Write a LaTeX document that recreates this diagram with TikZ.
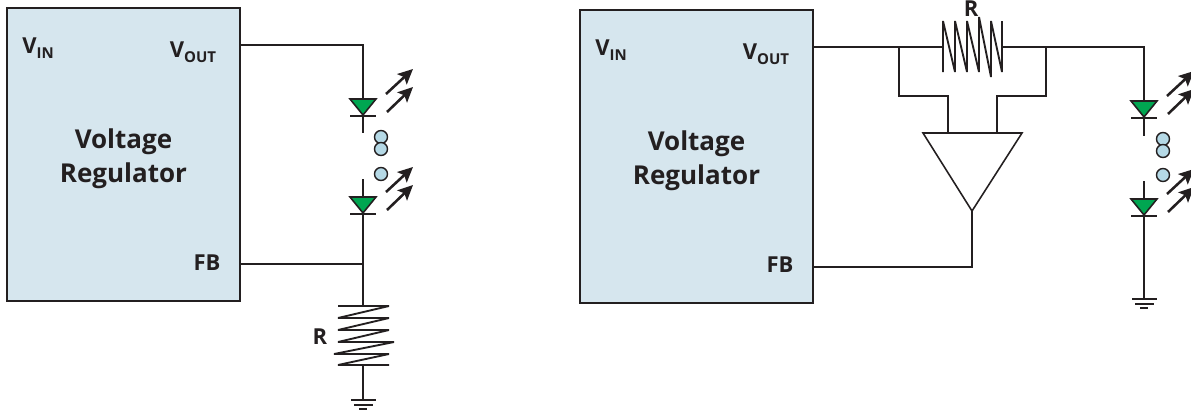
\documentclass[tikz,border=0pt]{standalone}
\usepackage{fontspec}
\setmainfont{Open Sans}
\usetikzlibrary{arrows.meta}

\definecolor{inkdark}{HTML}{231F20}
\definecolor{regblue}{HTML}{D6E6EE}
\definecolor{ledgreen}{HTML}{00A651}
\definecolor{dotblue}{HTML}{B5D9E6}

\newcommand{\pinsub}[2]{#1{\fontsize{15}{16}\selectfont\raisebox{-4.5pt}{#2}}}

\tikzset{
          wire/.style = {draw = inkdark, line width = 0.55mm},
          coil/.style = {draw = inkdark, line width = 0.65mm, miter limit = 2},
          regbox/.style = {rectangle, draw = inkdark, line width = 0.55mm, fill = regblue, minimum width = 233pt, minimum height = 293pt, inner sep = 0pt},
          regname/.style = {align = center, inner sep = 0pt, text = inkdark, font = \fontsize{26}{34}\selectfont\bfseries},
          pin/.style = {text = inkdark, font = \fontsize{22}{24}\selectfont\bfseries, inner sep = 0pt, anchor = center},
          lamp/.style = {circle, draw = inkdark, line width = 0.5mm, fill = dotblue, minimum size = 13pt, inner sep = 0pt},
          glow/.style = {draw = inkdark, line width = 0.9mm, -{Stealth[length=15pt,width=14pt,inset=3pt]}},
          led/.pic = {
            \coordinate (-in) at (0,0);
            \coordinate (-out) at (0,17);
            \draw[wire, fill=ledgreen] (-13,0) -- (13,0) -- (0,16) -- cycle;
            \draw[wire] (-13,17) -- (13,17);
            \draw[glow] (23,-5) -- (50,-30);
            \draw[glow] (24,13) -- (50,-12);
          },
          earth/.pic = {
            \coordinate (-in) at (0,0);
            \draw[wire] (-12,0) -- (13,0);
            \draw[wire] (-9,5) -- (10,5);
            \draw[wire] (-4,9) -- (4,9);
          }
        }

\begin{document}
\begin{tikzpicture}[x=1pt,y=-1pt]
          \useasboundingbox (0,0) rectangle (1191,413);

          % left circuit
          \node[regbox] (regA) at (123.5,154.5) {};
          \node[regname] (nameA) at (123.5,158.5) {Voltage\\Regulator};
          \node[pin] (vinA) at (38,48) {\pinsub{V}{IN}};
          \node[pin] (voutA) at (193,52) {\pinsub{V}{OUT}};
          \node[pin] (fbA) at (207,263) {FB};

          \pic (ledA) at (363,99) {led};
          \pic (ledB) at (363,197) {led};
          \pic (gndA) at (363,400) {earth};

          \foreach \n/\yi in {a/137,b/149,c/174}{
            \node[lamp] (dot\n) at (381,\yi) {};
          }

          \coordinate (vpinA) at (240,45);
          \coordinate (fbpinA) at (240,264);
          \coordinate (fbtapA) at (363,264);
          \coordinate (rtopA) at (363,306);
          \coordinate (rbotA) at (363,365);

          \draw[wire] (vpinA) -| (ledA-in);
          \draw[wire] (ledA-out) -- ++(0,17);
          \draw[wire] (ledB-in) -- ++(0,-18);
          \draw[wire] (ledB-out) -- (rtopA);
          \draw[wire] (fbpinA) -- (fbtapA);
          \draw[wire] (rbotA) -- (gndA-in);

          \draw[coil] (338,306) -- (389,306) -- (338,318) -- (389,318) -- (338,330) -- (389,330)
            -- (338,342) -- (394,342) -- (334,354) -- (389,354) -- (338,365) -- (389,365);
          \node[pin] (rlabelA) at (320,337) {R};

          % right circuit
          \node[regbox] (regB) at (696.5,156.5) {};
          \node[regname] (nameB) at (696.5,160.5) {Voltage\\Regulator};
          \node[pin] (vinB) at (611,50) {\pinsub{V}{IN}};
          \node[pin] (voutB) at (766,54) {\pinsub{V}{OUT}};
          \node[pin] (fbB) at (780,265) {FB};

          \pic (ledC) at (1144,101) {led};
          \pic (ledD) at (1144,199) {led};
          \pic (gndB) at (1144,299) {earth};

          \foreach \n/\yi in {d/139,e/151,f/175}{
            \node[lamp] (dot\n) at (1163,\yi) {};
          }

          \coordinate (vpinB) at (813,47);
          \coordinate (rleft) at (943,47);
          \coordinate (rright) at (1002,47);
          \coordinate (tapL) at (899,47);
          \coordinate (tapR) at (1046,47);
          \coordinate (ampL) at (948,133);
          \coordinate (ampR) at (997,133);
          \coordinate (ampout) at (972,211);
          \coordinate (fbpinB) at (813,267);

          \draw[wire] (vpinB) -- (rleft);
          \draw[wire] (rright) -| (ledC-in);
          \draw[wire] (ledC-out) -- ++(0,18);
          \draw[wire] (ledD-in) -- ++(0,-18);
          \draw[wire] (ledD-out) -- (gndB-in);
          \draw[wire] (tapL) |- (948,96) -- (ampL);
          \draw[wire] (tapR) |- (997,96) -- (ampR);
          \draw[wire] (923,133) -- (1022,133) -- (ampout) -- cycle;
          \draw[wire] (ampout) |- (fbpinB);

          \draw[coil] (943,72) -- (943,21) -- (955,72) -- (955,21) -- (967,72) -- (967,21)
            -- (979,72) -- (979,17) -- (991,77) -- (991,21) -- (1002,72) -- (1002,21);
          \node[pin] (rlabelB) at (971,9) {R};
        \end{tikzpicture}
\end{document}
